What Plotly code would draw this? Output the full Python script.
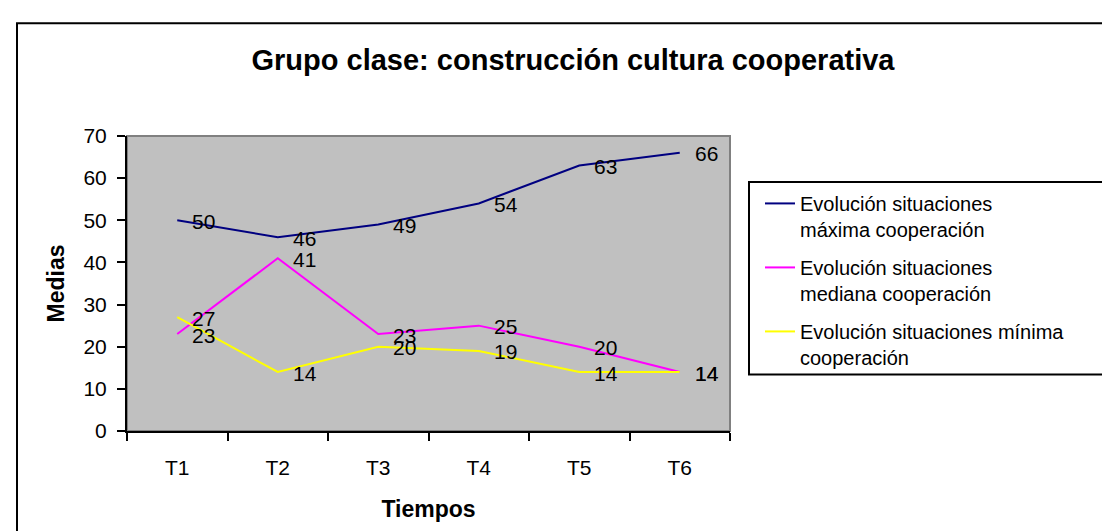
import plotly.graph_objects as go

categories = ["T1", "T2", "T3", "T4", "T5", "T6"]
maxima = [50, 46, 49, 54, 63, 66]
mediana = [23, 41, 23, 25, 20, 14]
minima = [27, 14, 20, 19, 14, 14]
series_names = [
    "Evolución situaciones<br>máxima cooperación",
    "Evolución situaciones<br>mediana cooperación",
    "Evolución situaciones mínima<br>cooperación",
]
colors = ["#000080", "#FF00FF", "#FFFF00"]
y_ticks = [0, 10, 20, 30, 40, 50, 60, 70]

FONT = "Liberation Sans, Arial, sans-serif"

W, H = 1110, 531
L, R, T, B = 119, 722, 128, 423.5

fig = go.Figure()
annotations = []
for i, (name, vals, col) in enumerate(zip(series_names, [maxima, mediana, minima], colors)):
    fig.add_trace(go.Scatter(
        x=categories, y=vals, mode="lines", name=name,
        legendgroup=f"g{i}",
        line=dict(color=col, width=2),
        hoverinfo="skip",
    ))
    for c, v in zip(categories, vals):
        annotations.append(dict(
            x=c, y=v, xref="x", yref="y", text=str(v), showarrow=False,
            xanchor="left", yanchor="middle", xshift=13, yshift=-1,
            font=dict(family=FONT, size=21, color="#000000"),
        ))

pw = R - L
ph = B - T

def px_to_paper_x(px):
    return (px - L) / pw

def px_to_paper_y(py):
    return (B - py) / ph

shapes = [
    # outer chart border
    dict(type="rect", xref="paper", yref="paper",
         x0=px_to_paper_x(9), x1=px_to_paper_x(1125),
         y0=px_to_paper_y(545), y1=px_to_paper_y(15),
         line=dict(color="#000000", width=2), fillcolor="rgba(0,0,0,0)", layer="below"),
    # plot area border (grey)
    dict(type="rect", xref="paper", yref="paper", x0=0, x1=1, y0=0, y1=1,
         line=dict(color="#808080", width=2), fillcolor="rgba(0,0,0,0)", layer="below"),
    # legend box
    dict(type="rect", xref="paper", yref="paper",
         x0=px_to_paper_x(741), x1=px_to_paper_x(1125),
         y0=px_to_paper_y(367), y1=px_to_paper_y(174),
         line=dict(color="#000000", width=2), fillcolor="#FFFFFF", layer="below"),
]

fig.update_layout(
    width=W, height=H,
    margin=dict(l=L, r=W - R, t=T, b=H - B, autoexpand=False),
    paper_bgcolor="#FFFFFF",
    plot_bgcolor="#C0C0C0",
    font=dict(family=FONT, color="#000000"),
    title=dict(
        text="<b>Grupo clase: construcción cultura cooperativa</b>",
        x=565 / W, xanchor="center", y=1 - 52 / H, yanchor="middle",
        xref="container", yref="container",
        font=dict(family=FONT, size=29, color="#000000"),
    ),
    xaxis=dict(
        type="category", tickson="boundaries",
        showgrid=False, zeroline=False,
        showline=True, linecolor="#000000", linewidth=2,
        ticks="outside", ticklen=8, tickwidth=2, tickcolor="#000000",
        ticklabelstandoff=17,
        tickfont=dict(family=FONT, size=21, color="#000000"),
        title=dict(text="<b>Tiempos</b>", standoff=23,
                   font=dict(family=FONT, size=23, color="#000000")),
        range=[-0.5, 5.5],
    ),
    yaxis=dict(
        range=[0, 70], tickvals=y_ticks,
        showgrid=False, zeroline=False,
        showline=True, linecolor="#000000", linewidth=2,
        ticks="outside", ticklen=8, tickwidth=2, tickcolor="#000000",
        ticklabelstandoff=6,
        tickfont=dict(family=FONT, size=21, color="#000000"),
        title=dict(text="<b>Medias</b>", standoff=12,
                   font=dict(family=FONT, size=23, color="#000000")),
    ),
    legend=dict(
        x=px_to_paper_x(752), y=px_to_paper_y(176),
        xanchor="left", yanchor="top",
        borderwidth=0, bgcolor="rgba(0,0,0,0)",
        font=dict(family=FONT, size=20, color="#000000"),
        valign="top", tracegroupgap=9, traceorder="grouped",
    ),
    annotations=annotations,
    shapes=shapes,
    showlegend=True,
)

fig.write_html("out.html")
